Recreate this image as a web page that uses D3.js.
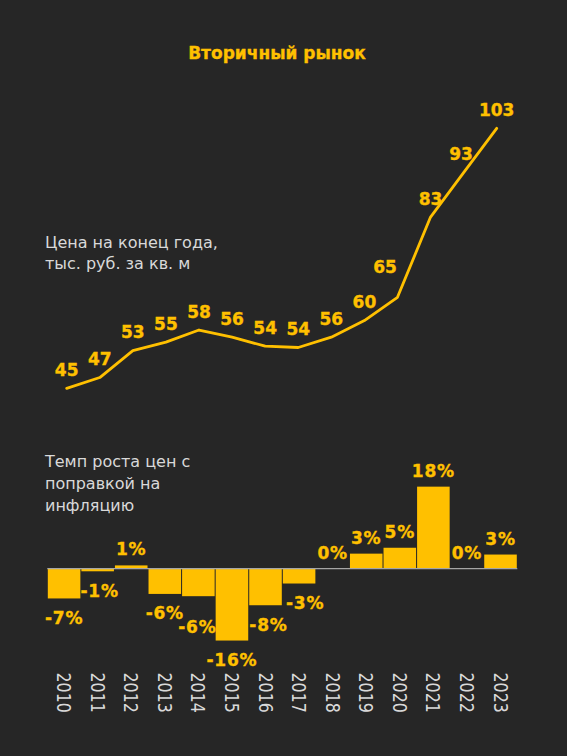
<!DOCTYPE html>
<html>
<head>
<meta charset="utf-8">
<script src="https://cdn.jsdelivr.net/npm/d3@7"></script>
<style>
  html, body { margin: 0; padding: 0; background: #262626; }
  svg { display: block; }
</style>
</head>
<body>
<svg id="chart" width="567" height="756"></svg>
<script>
// ---- data ----
const years = ["2010","2011","2012","2013","2014","2015","2016","2017","2018","2019","2020","2021","2022","2023"];
const prices = [45, 47.4, 53.4, 55.3, 58, 56.4, 54.4, 54.1, 56.4, 60.1, 65.3, 83.2, 93.1, 103];
const realGrowth = [-6.6, -0.6, 0.7, -5.6, -6.1, -15.9, -8.1, -3.3, 0, 3.3, 4.6, 18.1, 0, 3.1];
const titleText = "Вторичный рынок";
const priceCaption = ["Цена на конец года,", "тыс. руб. за кв. м"];
const growthCaption = ["Темп роста цен с", "поправкой на", "инфляцию"];

// ---- style ----
const YELLOW = "#FFC000";
const GREY = "#d9d9d9";
const FONT = "'DejaVu Sans', Verdana, sans-serif";

const svg = d3.select("#chart");
svg.append("rect").attr("width", 567).attr("height", 756).attr("fill", "#262626");

// title
svg.append("text")
  .attr("x", 277).attr("y", 59)
  .attr("text-anchor", "middle")
  .attr("font-family", FONT).attr("font-weight", "bold").attr("font-size", 17)
  .attr("fill", YELLOW).attr("stroke", YELLOW).attr("stroke-width", 0.3)
  .text(titleText);

// ---- line chart ----
const xLine = d3.scalePoint().domain(years).range([66.7, 496.7]);
const yLine = d3.scaleLinear().domain([45, 103]).range([388.3, 128.3]);

const pts = years.map((y, i) => ({ year: y, v: prices[i] }));

svg.append("path")
  .datum(pts)
  .attr("fill", "none")
  .attr("stroke", YELLOW)
  .attr("stroke-width", 2.8)
  .attr("stroke-linejoin", "round")
  .attr("stroke-linecap", "round")
  .attr("d", d3.line().x(d => xLine(d.year)).y(d => yLine(d.v)));

const lineNudge = { "2020": [-12.5, -12], "2022": [-2.5, 0] };
svg.append("g").selectAll("text")
  .data(pts)
  .join("text")
  .attr("x", d => xLine(d.year) + (lineNudge[d.year] ? lineNudge[d.year][0] : 0))
  .attr("y", d => yLine(d.v) - 12.5 + (lineNudge[d.year] ? lineNudge[d.year][1] : 0))
  .attr("text-anchor", "middle")
  .attr("font-family", FONT).attr("font-weight", "bold").attr("font-size", 17)
  .attr("fill", YELLOW).attr("stroke", YELLOW).attr("stroke-width", 0.35)
  .text(d => Math.round(d.v));

svg.append("text")
  .attr("font-family", FONT).attr("font-size", 16).attr("fill", GREY)
  .selectAll("tspan").data(priceCaption).join("tspan")
  .attr("x", 45).attr("y", (d, i) => 248.3 + i * 21)
  .text(d => d);

// ---- bar chart ----
svg.append("text")
  .attr("font-family", FONT).attr("font-size", 16).attr("fill", GREY)
  .selectAll("tspan").data(growthCaption).join("tspan")
  .attr("x", 45).attr("y", (d, i) => 467.3 + i * 21.7)
  .text(d => d);

const xBar = d3.scaleBand().domain(years).range([47.3, 517.3]).paddingInner(0.03).paddingOuter(0.015);
const yBar = d3.scaleLinear().domain([-16, 18]).range([641, 487.1]);

const bars = years.map((y, i) => ({ year: y, v: realGrowth[i] }));

svg.append("g").selectAll("rect")
  .data(bars)
  .join("rect")
  .attr("x", d => xBar(d.year))
  .attr("width", xBar.bandwidth())
  .attr("y", d => yBar(Math.max(0, d.v)))
  .attr("height", d => Math.abs(yBar(d.v) - yBar(0)))
  .attr("fill", YELLOW);

// zero axis line
svg.append("line")
  .attr("x1", 47.3).attr("x2", 517.3)
  .attr("y1", yBar(0)).attr("y2", yBar(0))
  .attr("stroke", "#a6a6a6").attr("stroke-width", 1.2);

const barNudge = { "2011": [2, 0], "2014": [-1, 11], "2016": [3, 0], "2017": [6, 0] };
svg.append("g").selectAll("text")
  .data(bars)
  .join("text")
  .attr("x", d => xBar(d.year) + xBar.bandwidth() / 2 + (barNudge[d.year] ? barNudge[d.year][0] : 0))
  .attr("y", d => (d.v >= 0 ? yBar(d.v) - 10 : yBar(d.v) + 25.5) + (barNudge[d.year] ? barNudge[d.year][1] : 0))
  .attr("text-anchor", "middle")
  .attr("font-family", FONT).attr("font-weight", "bold").attr("font-size", 17)
  .attr("letter-spacing", 0.8)
  .attr("fill", YELLOW).attr("stroke", YELLOW).attr("stroke-width", 0.35)
  .text(d => { const r = Math.round(d.v); return (r === 0 ? 0 : r) + "%"; });

// year axis labels (rotated)
const xAxis = d3.axisBottom(xBar).tickSize(0).tickPadding(0);
const gAxis = svg.append("g").attr("transform", "translate(0,672.5)").call(xAxis);
gAxis.select(".domain").remove();
gAxis.selectAll("text")
  .attr("transform", "rotate(90) scale(0.88,1)")
  .attr("x", 0).attr("y", 0).attr("dy", "0.35em")
  .attr("text-anchor", "start")
  .attr("font-family", "'DejaVu Sans Condensed', 'DejaVu Sans', sans-serif")
  .attr("font-stretch", "condensed")
  .attr("font-size", 20)
  .attr("fill", GREY);
</script>
</body>
</html>
